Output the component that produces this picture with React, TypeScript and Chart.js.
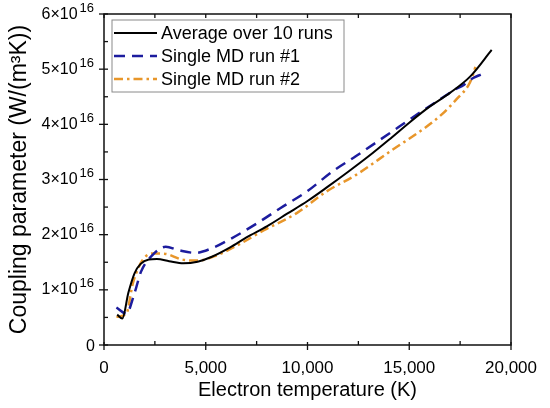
import React, { useEffect, useRef } from "react";
import { Chart, registerables } from "chart.js";

Chart.register(...registerables);

// Electron temperature (K) and coupling parameter (units of 1e16 W/(m^3 K))
const avgT = [650, 900, 1200, 1500, 1800, 2200, 2600, 3200, 3900, 4600, 5300, 6200, 7000, 8000, 9000, 10000, 11000, 12000, 13000, 14000, 15000, 16000, 17000, 18000, 19050];
const avgV = [0.55, 0.48, 0.95, 1.3, 1.47, 1.55, 1.56, 1.52, 1.48, 1.51, 1.6, 1.77, 1.95, 2.15, 2.38, 2.61, 2.87, 3.14, 3.42, 3.72, 4.03, 4.32, 4.57, 4.87, 5.35];

const run1T = [610, 1100, 1500, 1820, 2380, 3030, 3670, 4480, 5280, 6250, 7540, 8660, 10000, 11240, 12370, 14000, 15590, 16500, 17200, 17700, 18100, 18560];
const run1V = [0.68, 0.57, 0.94, 1.33, 1.63, 1.78, 1.72, 1.67, 1.75, 1.93, 2.21, 2.48, 2.79, 3.15, 3.42, 3.83, 4.23, 4.45, 4.62, 4.72, 4.83, 4.91];

const run2T = [610, 1100, 1420, 1900, 2380, 3030, 3830, 4640, 5440, 6570, 7860, 9470, 10920, 12370, 14140, 15750, 16600, 17360, 17900, 18100, 18250];
const run2V = [0.51, 0.57, 1.12, 1.54, 1.66, 1.65, 1.55, 1.53, 1.61, 1.81, 2.08, 2.39, 2.78, 3.08, 3.53, 3.93, 4.18, 4.47, 4.7, 4.86, 5.04];

const seriesLabels = ["Average over 10 runs", "Single MD run #1", "Single MD run #2"];
const xTickValues = [0, 5000, 10000, 15000, 20000];
const yTickValues = [0, 1, 2, 3, 4, 5, 6];
const yExponent = "16";

const FONT = "'Liberation Sans', Arial, sans-serif";

const toPoints = (xs: number[], ys: number[]) => xs.map((x, i) => ({ x, y: ys[i] }));

const framePlugin = {
  id: "frameTicks",
  afterDraw(chart: any) {
    const { ctx, chartArea } = chart;
    const xs = chart.scales.x;
    const ys = chart.scales.y;
    const { left, right, top, bottom } = chartArea;
    ctx.save();
    ctx.strokeStyle = "#111";
    ctx.lineWidth = 1.5;
    ctx.beginPath();
    ctx.rect(left, top, right - left, bottom - top);
    ctx.stroke();
    ctx.lineWidth = 1.3;
    // x ticks
    for (let v = 0; v <= 20000; v += 2500) {
      const px = xs.getPixelForValue(v);
      const major = v % 5000 === 0;
      ctx.beginPath();
      if (major) {
        ctx.moveTo(px, bottom - 3);
        ctx.lineTo(px, bottom + 5);
      } else {
        ctx.moveTo(px, bottom);
        ctx.lineTo(px, bottom - 4);
      }
      ctx.moveTo(px, top);
      ctx.lineTo(px, top + 4);
      ctx.stroke();
    }
    // y ticks
    for (let v = 0; v <= 6; v += 0.5) {
      const py = ys.getPixelForValue(v);
      const major = Math.abs(v - Math.round(v)) < 1e-6;
      ctx.beginPath();
      if (major) {
        ctx.moveTo(left - 5, py);
        ctx.lineTo(left + 4, py);
      } else {
        ctx.moveTo(left, py);
        ctx.lineTo(left + 4, py);
      }
      ctx.stroke();
    }
    // y tick labels with superscript exponent
    ctx.fillStyle = "#000";
    ctx.textAlign = "right";
    ctx.textBaseline = "alphabetic";
    const rx = left - 10;
    ys.ticks.forEach((t: any) => {
      const py = ys.getPixelForValue(t.value);
      if (t.value === 0) {
        ctx.font = `16px ${FONT}`;
        ctx.fillText("0", rx + 1, py + 5.5);
        return;
      }
      ctx.font = `13px ${FONT}`;
      const sw = ctx.measureText(yExponent).width;
      ctx.fillText(yExponent, rx, py - 2.5);
      ctx.font = `16px ${FONT}`;
      ctx.fillText(`${t.value}×10`, rx - sw - 2, py + 4.5);
    });
    // legend
    const bx = left + 8, by = top + 6, bw = 232, bh = 72;
    ctx.textAlign = "left";
    ctx.strokeStyle = "#8a8a8a";
    ctx.lineWidth = 1;
    ctx.strokeRect(bx, by, bw, bh);
    ctx.font = `18px ${FONT}`;
    ctx.textBaseline = "middle";
    ctx.fillStyle = "#000";
    chart.data.datasets.forEach((ds: any, i: number) => {
      const ly = by + 13 + i * 23;
      ctx.save();
      ctx.strokeStyle = ds.borderColor;
      ctx.lineWidth = ds.borderWidth;
      ctx.setLineDash(ds.borderDash || []);
      ctx.beginPath();
      ctx.moveTo(bx + 2, ly);
      ctx.lineTo(bx + 45, ly);
      ctx.stroke();
      ctx.restore();
      ctx.fillText(ds.label, bx + 49, ly + 1);
    });
    ctx.restore();
  },
};

export default function App() {
  const ref = useRef<HTMLCanvasElement | null>(null);
  useEffect(() => {
    if (!ref.current) return;
    const chart = new Chart(ref.current, {
      type: "line",
      data: {
        datasets: [
          {
            label: seriesLabels[0],
            data: toPoints(avgT, avgV),
            borderColor: "#000000",
            borderWidth: 2,
            pointRadius: 0,
            cubicInterpolationMode: "monotone",
          },
          {
            label: seriesLabels[1],
            data: toPoints(run1T, run1V),
            borderColor: "#1c1c9e",
            borderWidth: 2.5,
            borderDash: [11, 7],
            pointRadius: 0,
            cubicInterpolationMode: "monotone",
          },
          {
            label: seriesLabels[2],
            data: toPoints(run2T, run2V),
            borderColor: "#e8962a",
            borderWidth: 2.5,
            borderDash: [9, 4, 2.5, 4],
            pointRadius: 0,
            cubicInterpolationMode: "monotone",
          },
        ],
      },
      options: {
        animation: false,
        responsive: false,
        devicePixelRatio: 1,
        layout: { padding: { top: 14, right: 32, left: 0, bottom: 0 } },
        plugins: { legend: { display: false }, tooltip: { enabled: false } },
        scales: {
          x: {
            type: "linear",
            min: 0,
            max: 20000,
            afterBuildTicks: (s: any) => {
              s.ticks = xTickValues.map((value) => ({ value }));
            },
            afterFit: (s: any) => {
              s.height = 63;
            },
            ticks: {
              font: { size: 17, family: FONT },
              color: "#000",
              padding: 13,
              maxRotation: 0,
              callback: (v: any) => Number(v).toLocaleString("en-US"),
            },
            grid: { display: false, drawTicks: false },
            border: { display: false },
            title: {
              display: true,
              text: "Electron temperature (K)",
              font: { size: 20, family: FONT },
              color: "#000",
              padding: { top: 0, bottom: 6 },
            },
          },
          y: {
            type: "linear",
            min: 0,
            max: 6,
            afterBuildTicks: (s: any) => {
              s.ticks = yTickValues.map((value) => ({ value }));
            },
            afterFit: (s: any) => {
              s.width = 104;
            },
            ticks: { display: false },
            grid: { display: false, drawTicks: false },
            border: { display: false },
            title: {
              display: true,
              text: "Coupling parameter (W/(m³K))",
              font: { size: 23, family: FONT },
              color: "#000",
              padding: { top: 6, bottom: 0 },
            },
          },
        },
      },
      plugins: [framePlugin],
    } as any);
    return () => chart.destroy();
  }, []);
  return (
    <div style={{ position: "absolute", left: 0, top: 0, width: 550, height: 408, background: "#fff" }}>
      <canvas ref={ref} width={550} height={408} style={{ width: 550, height: 408 }} />
    </div>
  );
}
